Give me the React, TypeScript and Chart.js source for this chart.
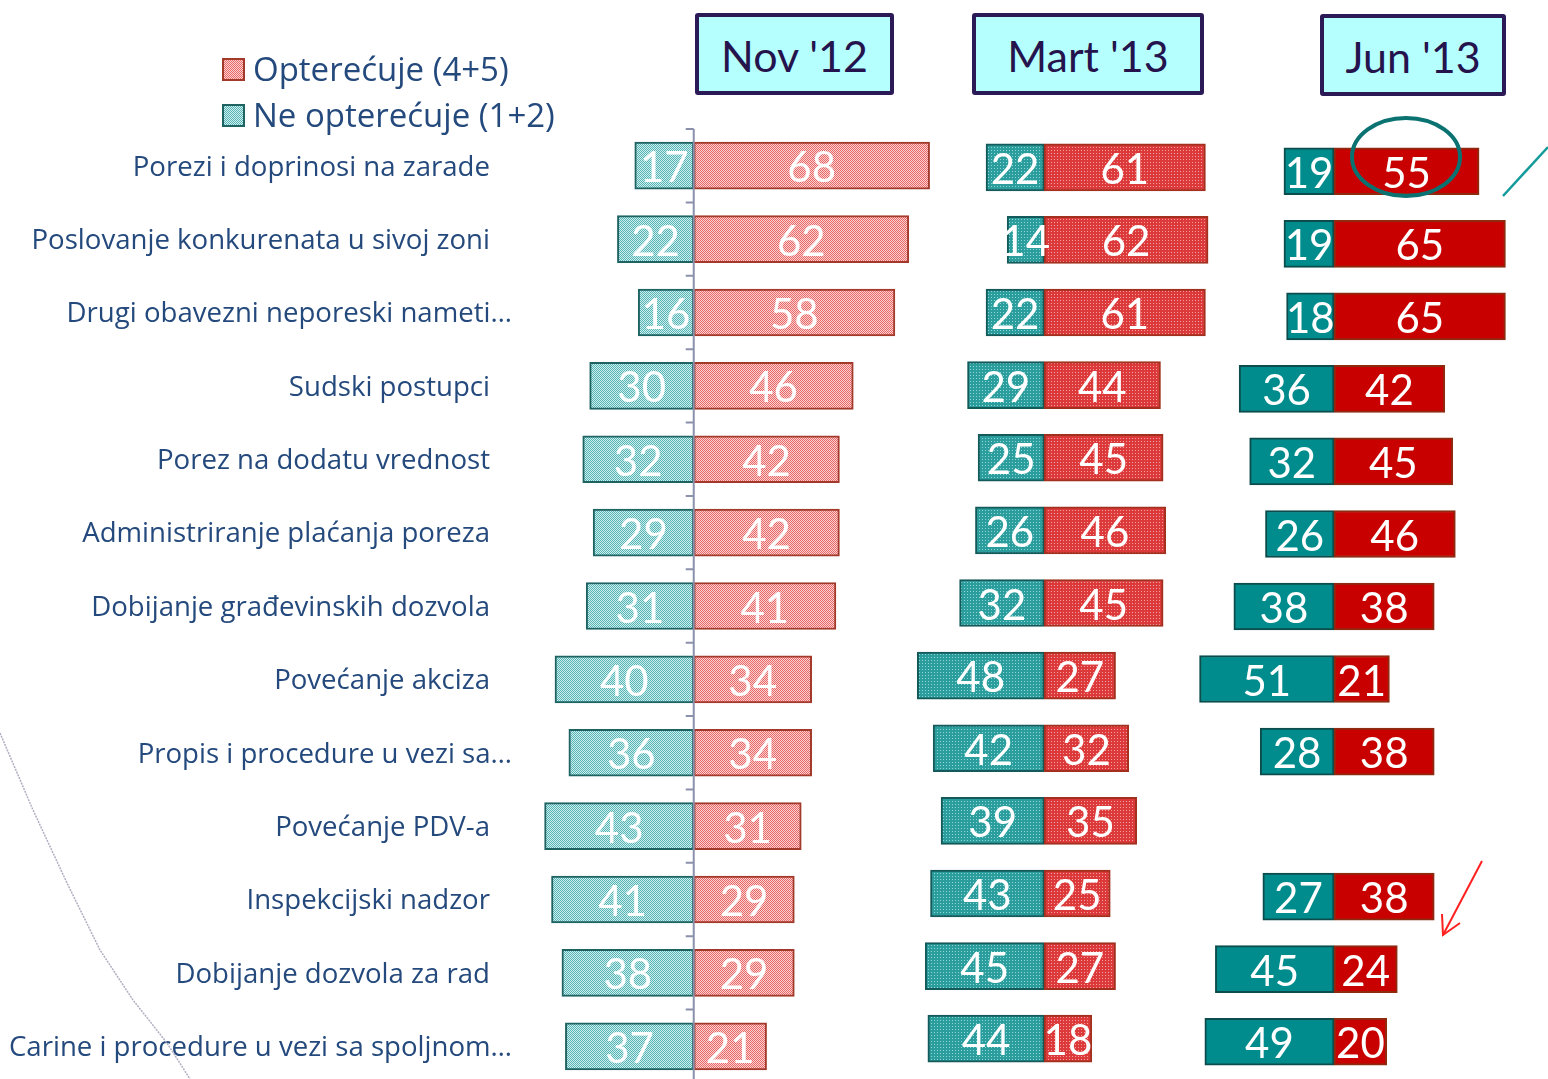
import React, { useEffect, useRef } from "react";
import { Chart, registerables } from "chart.js";

Chart.register(...registerables);

// ---------- DATA ----------
const categories = [
  "Porezi i doprinosi na zarade",
  "Poslovanje konkurenata u sivoj zoni",
  "Drugi obavezni neporeski nameti…",
  "Sudski postupci",
  "Porez na dodatu vrednost",
  "Administriranje plaćanja poreza",
  "Dobijanje građevinskih dozvola",
  "Povećanje akciza",
  "Propis i procedure u vezi sa…",
  "Povećanje PDV-a",
  "Inspekcijski nadzor",
  "Dobijanje dozvola za rad",
  "Carine i procedure u vezi sa spoljnom…",
];

const periods = ["Nov '12", "Mart '13", "Jun '13"];
const seriesNames = ["Opterećuje (4+5)", "Ne opterećuje (1+2)"];

const burdenNov12 = [68, 62, 58, 46, 42, 42, 41, 34, 34, 31, 29, 29, 21];
const notBurdenNov12 = [17, 22, 16, 30, 32, 29, 31, 40, 36, 43, 41, 38, 37];

const burdenMar13 = [61, 62, 61, 44, 45, 46, 45, 27, 32, 35, 25, 27, 18];
const notBurdenMar13 = [22, 14, 22, 29, 25, 26, 32, 48, 42, 39, 43, 45, 44];

const burdenJun13 = [55, 65, 65, 42, 45, 46, 38, 21, 38, null, 38, 24, 20];
const notBurdenJun13 = [19, 19, 18, 36, 32, 26, 38, 51, 28, null, 27, 45, 49];

// ---------- STYLE HELPERS ----------
const FONT = "Lato, 'Open Sans', sans-serif";
const TEXT_FONT = "'Open Sans', Lato, sans-serif";
const LABEL_BLUE = "#24497C";

function checker(a: string, b: string): CanvasPattern | string {
  const c = document.createElement("canvas");
  c.width = 2;
  c.height = 2;
  const g = c.getContext("2d");
  if (!g) return a;
  g.fillStyle = a;
  g.fillRect(0, 0, 2, 2);
  g.fillStyle = b;
  g.fillRect(1, 0, 1, 1);
  g.fillRect(0, 1, 1, 1);
  return g.createPattern(c, "repeat") || a;
}

function dotted(a: string, b: string): CanvasPattern | string {
  const c = document.createElement("canvas");
  c.width = 3;
  c.height = 3;
  const g = c.getContext("2d");
  if (!g) return a;
  g.fillStyle = a;
  g.fillRect(0, 0, 3, 3);
  g.fillStyle = b;
  g.fillRect(1, 1, 1, 1);
  return g.createPattern(c, "repeat") || a;
}

const valueLabels = {
  id: "valueLabels",
  afterDatasetsDraw(chart: any) {
    const ctx = chart.ctx;
    ctx.save();
    ctx.font = `42px ${FONT}`;
    ctx.fillStyle = "#ffffff";
    ctx.textAlign = "center";
    ctx.textBaseline = "middle";
    chart.data.datasets.forEach((ds: any, di: number) => {
      const meta = chart.getDatasetMeta(di);
      meta.data.forEach((el: any, i: number) => {
        const v = ds.data[i];
        if (v == null) return;
        const p = el.getProps(["x", "base", "y"], true);
        ctx.fillText(String(Math.abs(v)), (p.x + p.base) / 2, p.y + 3);
      });
    });
    ctx.restore();
  },
};

const zeroAxis = {
  id: "zeroAxis",
  afterDatasetsDraw(chart: any) {
    const ctx = chart.ctx;
    const xs = chart.scales.x;
    const ys = chart.scales.y;
    const x0 = xs.getPixelForValue(0);
    const top = chart.chartArea.top;
    const bottom = chart.chartArea.bottom;
    const n = chart.data.labels.length;
    const band = (bottom - top) / n;
    ctx.save();
    ctx.strokeStyle = "#8B91AA";
    ctx.lineWidth = 2;
    ctx.beginPath();
    ctx.moveTo(x0, top);
    ctx.lineTo(x0, bottom);
    for (let i = 0; i <= n; i++) {
      const yy = ys.getPixelForValue(0) - band / 2 + i * band;
      ctx.moveTo(x0 - 8, yy);
      ctx.lineTo(x0, yy);
    }
    ctx.stroke();
    ctx.restore();
  },
};

const categoryLabels = {
  id: "categoryLabels",
  afterDraw(chart: any) {
    const ctx = chart.ctx;
    const ys = chart.scales.y;
    ctx.save();
    ctx.font = `27.6px ${TEXT_FONT}`;
    ctx.fillStyle = LABEL_BLUE;
    ctx.textAlign = "right";
    ctx.textBaseline = "middle";
    (chart.data.labels as string[]).forEach((lab, i) => {
      const x = lab.endsWith("…") ? 512 : 490;
      ctx.fillText(lab, x, ys.getPixelForValue(i) + 2);
    });
    ctx.restore();
  },
};

const customLegend = {
  id: "customLegend",
  afterDraw(chart: any) {
    const ctx = chart.ctx;
    const order = [0, 1];
    ctx.save();
    ctx.font = `33px ${TEXT_FONT}`;
    ctx.textBaseline = "middle";
    ctx.textAlign = "left";
    order.forEach((di, k) => {
      const ds = chart.data.datasets[di];
      const y = 70 + k * 46;
      ctx.fillStyle = ds.backgroundColor;
      ctx.fillRect(223, y - 11, 21, 21);
      ctx.strokeStyle = ds.borderColor;
      ctx.lineWidth = 2;
      ctx.strokeRect(223, y - 11, 21, 21);
      ctx.fillStyle = LABEL_BLUE;
      ctx.fillText(ds.label, 253, y + 2);
    });
    ctx.restore();
  },
};

type PanelCfg = {
  burden: (number | null)[];
  notBurden: (number | null)[];
  min: number;
  max: number;
  red: any;
  teal: any;
  redBorder: string;
  tealBorder: string;
  padTop: number;
  plugins: any[];
};

function buildChart(canvas: HTMLCanvasElement, cfg: PanelCfg) {
  return new Chart(canvas, {
    type: "bar",
    data: {
      labels: categories,
      datasets: [
        {
          label: seriesNames[0],
          data: cfg.burden,
          backgroundColor: cfg.red,
          borderColor: cfg.redBorder,
          borderWidth: 2,
          borderSkipped: false,
          barThickness: 47,
        },
        {
          label: seriesNames[1],
          data: cfg.notBurden.map((v) => (v == null ? null : -v)),
          backgroundColor: cfg.teal,
          borderColor: cfg.tealBorder,
          borderWidth: 2,
          borderSkipped: false,
          barThickness: 47,
        },
      ],
    },
    options: {
      indexAxis: "y",
      animation: false,
      responsive: false,
      devicePixelRatio: 1,
      layout: { padding: { top: cfg.padTop, bottom: 0, left: 0, right: 0 } },
      plugins: {
        legend: { display: false },
        tooltip: { enabled: false },
        title: { display: false },
      },
      scales: {
        x: { display: false, stacked: true, min: cfg.min, max: cfg.max },
        y: { display: false, stacked: true },
      },
    },
    plugins: cfg.plugins,
  } as any);
}

const headerStyle = (left: number, top: number, width: number): React.CSSProperties => ({
  position: "absolute",
  left,
  top,
  width,
  height: 82,
  boxSizing: "border-box",
  border: "4px solid #2B1A55",
  borderRadius: 3,
  background: "#B6FFFF",
  color: "#24134C",
  font: `43px ${FONT}`,
  display: "flex",
  alignItems: "center",
  justifyContent: "center",
  paddingTop: 2,
});

export default function App() {
  const c1 = useRef<HTMLCanvasElement>(null);
  const c2 = useRef<HTMLCanvasElement>(null);
  const c3 = useRef<HTMLCanvasElement>(null);

  useEffect(() => {
    document.body.style.margin = "0";
    const charts: Chart[] = [];
    if (c1.current) {
      charts.push(
        buildChart(c1.current, {
          burden: burdenNov12,
          notBurden: notBurdenNov12,
          min: -200,
          max: 71,
          red: checker("#E86868", "#FAD2D2"),
          teal: checker("#5AB4B4", "#CBEFEF"),
          redBorder: "#A3392A",
          tealBorder: "#1E6262",
          padTop: 129,
          plugins: [zeroAxis, valueLabels, categoryLabels, customLegend],
        })
      );
    }
    if (c2.current) {
      charts.push(
        buildChart(c2.current, {
          burden: burdenMar13,
          notBurden: notBurdenMar13,
          min: -50,
          max: 65,
          red: dotted("#DC3A3A", "#F4A0A0"),
          teal: dotted("#2C9D9D", "#8FD6D6"),
          redBorder: "#A3301F",
          tealBorder: "#145A5A",
          padTop: 0,
          plugins: [valueLabels],
        })
      );
    }
    if (c3.current) {
      charts.push(
        buildChart(c3.current, {
          burden: burdenJun13,
          notBurden: notBurdenJun13,
          min: -55,
          max: 80,
          red: "#C80000",
          teal: "#008C8C",
          redBorder: "#8E2A10",
          tealBorder: "#0C4C4C",
          padTop: 0,
          plugins: [valueLabels],
        })
      );
    }
    return () => charts.forEach((c) => c.destroy());
  }, []);

  return (
    <div
      style={{
        position: "relative",
        width: 1548,
        height: 1079,
        overflow: "hidden",
        background: "#ffffff",
      }}
    >
      <canvas
        ref={c1}
        width={940}
        height={1083}
        style={{ position: "absolute", left: 0, top: 0, width: 940, height: 1083 }}
      />
      <canvas
        ref={c2}
        width={304}
        height={944}
        style={{ position: "absolute", left: 912, top: 131, width: 304, height: 944 }}
      />
      <canvas
        ref={c3}
        width={356}
        height={943}
        style={{ position: "absolute", left: 1189, top: 135, width: 356, height: 943 }}
      />
      <div style={headerStyle(695, 13, 199)}>{periods[0]}</div>
      <div style={headerStyle(972, 13, 232)}>{periods[1]}</div>
      <div style={headerStyle(1320, 14, 186)}>{periods[2]}</div>
      <svg
        width={1548}
        height={1079}
        style={{ position: "absolute", left: 0, top: 0, pointerEvents: "none" }}
      >
        <polyline
          points="0,733 33,810 67,883 100,950 133,1000 167,1043 190,1079"
          fill="none"
          stroke="#B0AEC0"
          strokeWidth={1.5}
          strokeDasharray="2 1"
        />
        <ellipse cx={1406} cy={157} rx={54} ry={39} fill="none" stroke="#0B7272" strokeWidth={4} />
        <line x1={1503} y1={196} x2={1548} y2={147} stroke="#139A9A" strokeWidth={2.5} />
        <line x1={1482} y1={861} x2={1443} y2={935} stroke="#FF2020" strokeWidth={2} />
        <polyline points="1442,914 1443,935 1460,923" fill="none" stroke="#FF2020" strokeWidth={2} />
      </svg>
    </div>
  );
}
